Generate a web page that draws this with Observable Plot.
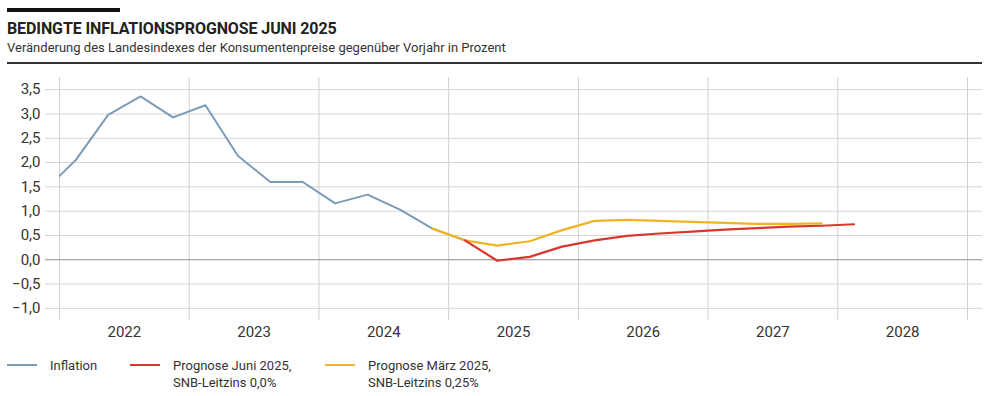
<!DOCTYPE html>
<html><head><meta charset="utf-8">
<script src="https://cdn.jsdelivr.net/npm/d3@7"></script>
<script src="https://cdn.jsdelivr.net/npm/@observablehq/plot@0.6"></script>
<style>
body{margin:0;width:1000px;height:396px;background:#fff;font-family:Roboto,"Liberation Sans",sans-serif;color:#222;position:relative;overflow:hidden}
#bar{position:absolute;left:7px;top:8px;width:113px;height:4px;background:#111}
#title{position:absolute;left:7px;top:19px;font-weight:700;font-size:16px;line-height:20px;letter-spacing:-0.1px;white-space:nowrap}
#subtitle{position:absolute;left:7px;top:39px;font-size:13px;line-height:18px;white-space:nowrap;color:#333}
#rule{position:absolute;left:7px;top:62px;width:975px;height:2px;background:#333}
#chart{position:absolute;left:0;top:70px}
.leg{position:absolute;font-size:13px;line-height:17px;color:#333;white-space:nowrap}
.sw{position:absolute;height:2px;width:30px}
</style></head>
<body>
<div id="bar"></div>
<div id="title">BEDINGTE INFLATIONSPROGNOSE JUNI 2025</div>
<div id="subtitle">Veränderung des Landesindexes der Konsumentenpreise gegenüber Vorjahr in Prozent</div>
<div id="rule"></div>
<div id="chart"></div>
<div id="legend"></div>
<script>
// Quarterly data (quarter labels "YYYY Qn")
const inflationPeriods = ["2021 Q4","2022 Q1","2022 Q2","2022 Q3","2022 Q4","2023 Q1","2023 Q2","2023 Q3","2023 Q4","2024 Q1","2024 Q2","2024 Q3","2024 Q4","2025 Q1"];
const inflationValues  = [1.40, 2.05, 2.98, 3.36, 2.93, 3.18, 2.14, 1.60, 1.60, 1.16, 1.34, 1.03, 0.64, 0.40];

const juneForecastPeriods = ["2025 Q1","2025 Q2","2025 Q3","2025 Q4","2026 Q1","2026 Q2","2026 Q3","2026 Q4","2027 Q1","2027 Q2","2027 Q3","2027 Q4","2028 Q1"];
const juneForecastValues  = [0.40, -0.02, 0.06, 0.27, 0.40, 0.49, 0.54, 0.58, 0.62, 0.65, 0.68, 0.70, 0.73];

const marchForecastPeriods = ["2024 Q4","2025 Q1","2025 Q2","2025 Q3","2025 Q4","2026 Q1","2026 Q2","2026 Q3","2026 Q4","2027 Q1","2027 Q2","2027 Q3","2027 Q4"];
const marchForecastValues  = [0.64, 0.40, 0.29, 0.38, 0.61, 0.80, 0.82, 0.80, 0.78, 0.76, 0.74, 0.74, 0.75];

const yearLabels = [2022, 2023, 2024, 2025, 2026, 2027, 2028];
const yearBounds = [2022, 2023, 2024, 2025, 2026, 2027, 2028, 2029];
const yTicks = [-1.0, -0.5, 0.0, 0.5, 1.0, 1.5, 2.0, 2.5, 3.0, 3.5];

const seriesNames = ["Inflation", "Prognose Juni 2025,\nSNB-Leitzins 0,0%", "Prognose März 2025,\nSNB-Leitzins 0,25%"];
const seriesColors = ["#7b9bb8", "#d9362c", "#f0b323"];

function toYear(p){ const [y,q] = p.split(" Q"); return +y + (+q - 0.5)/4; }
const mk = (ps, vs) => ps.map((p,i)=>({x: toYear(p), y: vs[i]}));
const inflation = mk(inflationPeriods, inflationValues);
const june = mk(juneForecastPeriods, juneForecastValues);
const march = mk(marchForecastPeriods, marchForecastValues);

const fmt = d => (d < 0 ? "\u2212" : "") + Math.abs(d).toFixed(1).replace(".", ",");

const chart = Plot.plot({
  width: 1000, height: 280,
  marginTop: 7, marginBottom: 30, marginLeft: 59, marginRight: 33,
  style: {fontFamily: "Roboto, 'Liberation Sans', sans-serif", fontSize: "15px", color: "#333", background: "transparent"},
  x: {domain: [2022, 2029], label: null},
  y: {domain: [-1.25, 3.75], label: null},
  marks: [
    Plot.ruleX(yearBounds, {stroke: "#cfcfcf", strokeWidth: 1}),
    Plot.ruleY(yTicks.filter(d => d !== 0), {stroke: "#d4d4d4", strokeWidth: 1, insetLeft: -14, insetRight: -15}),
    Plot.ruleY([0], {stroke: "#8c8c8c", strokeWidth: 1.2, insetLeft: -14, insetRight: -15}),
    Plot.axisY(yTicks, {tickSize: 0, tickPadding: 19, tickFormat: fmt, fontSize: 15, label: null}),
    Plot.axisX(yearLabels.map(y => y + 0.5), {tickSize: 0, tickPadding: 6, tickFormat: d => String(Math.floor(d)), fontSize: 15, label: null}),
    Plot.line(inflation, {x: "x", y: "y", stroke: seriesColors[0], strokeWidth: 2, clip: true}),
    Plot.line(march, {x: "x", y: "y", stroke: seriesColors[2], strokeWidth: 2.2}),
    Plot.line(june, {x: "x", y: "y", stroke: seriesColors[1], strokeWidth: 2.2})
  ]
});
document.getElementById("chart").appendChild(chart);

// legend
const legendX = [7, 130, 325];
const leg = document.getElementById("legend");
seriesNames.forEach((name, i) => {
  const sw = document.createElement("div");
  sw.className = "sw";
  sw.style.left = legendX[i] + "px";
  sw.style.top = "364px";
  sw.style.background = seriesColors[i];
  leg.appendChild(sw);
  const t = document.createElement("div");
  t.className = "leg";
  t.style.left = (legendX[i] + 43) + "px";
  t.style.top = "357px";
  t.innerHTML = name.split("\n").join("<br>");
  leg.appendChild(t);
});
</script>
</body></html>
